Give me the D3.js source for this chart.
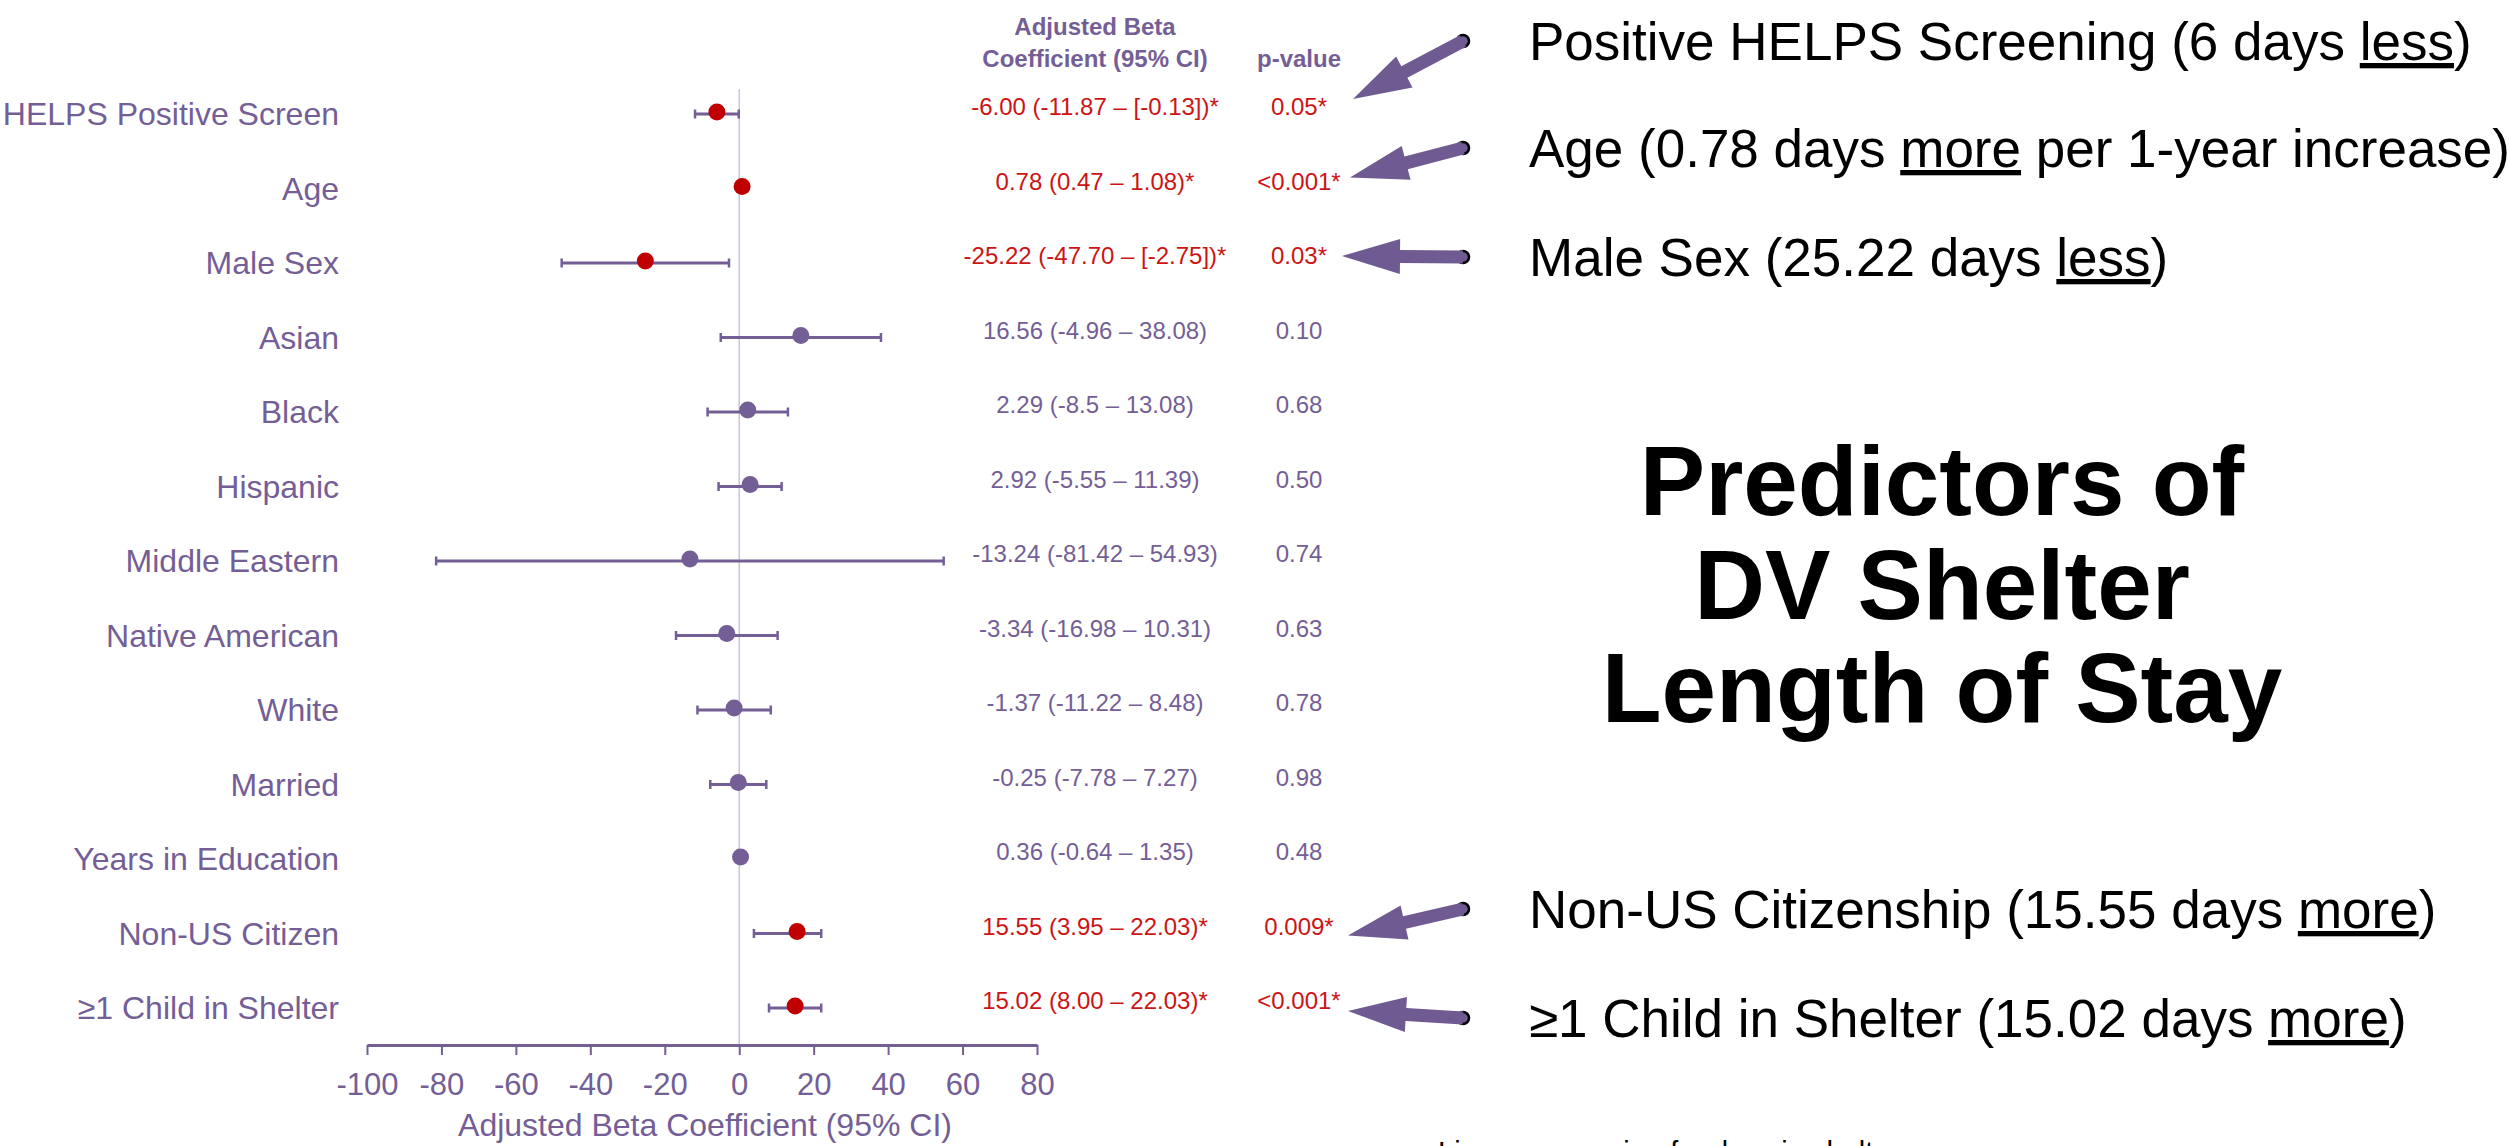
<!DOCTYPE html>
<html>
<head>
<meta charset="utf-8">
<script src="https://cdn.jsdelivr.net/npm/d3@7"></script>
<style>
  html, body { margin: 0; padding: 0; background: #fff; }
  text { font-family: "Liberation Sans", Arial, sans-serif; }
</style>
</head>
<body>
<div id="chart"></div>
<script>
// rows of the forest plot, top to bottom
const categories = ["HELPS Positive Screen", "Age", "Male Sex", "Asian", "Black", "Hispanic",
  "Middle Eastern", "Native American", "White", "Married", "Years in Education",
  "Non-US Citizen", "≥1 Child in Shelter"];
const beta   = [-6.00, 0.78, -25.22, 16.56, 2.29, 2.92, -13.24, -3.34, -1.37, -0.25, 0.36, 15.55, 15.02];
const ciLow  = [-11.87, 0.47, -47.70, -4.96, -8.5, -5.55, -81.42, -16.98, -11.22, -7.78, -0.64, 3.95, 8.00];
const ciHigh = [-0.13, 1.08, -2.75, 38.08, 13.08, 11.39, 54.93, 10.31, 8.48, 7.27, 1.35, 22.03, 22.03];
const ciLabels = ["-6.00 (-11.87 – [-0.13])*", "0.78 (0.47 – 1.08)*", "-25.22 (-47.70 – [-2.75])*",
  "16.56 (-4.96 – 38.08)", "2.29 (-8.5 – 13.08)", "2.92 (-5.55 – 11.39)", "-13.24 (-81.42 – 54.93)",
  "-3.34 (-16.98 – 10.31)", "-1.37 (-11.22 – 8.48)", "-0.25 (-7.78 – 7.27)", "0.36 (-0.64 – 1.35)",
  "15.55 (3.95 – 22.03)*", "15.02 (8.00 – 22.03)*"];
const pValues = ["0.05*", "<0.001*", "0.03*", "0.10", "0.68", "0.50", "0.74", "0.63", "0.78",
  "0.98", "0.48", "0.009*", "<0.001*"];
const significant = [true, true, true, false, false, false, false, false, false, false, false, true, true];
const xTicks = [-100, -80, -60, -40, -20, 0, 20, 40, 60, 80];

// callouts on the right: text before / underlined word / after, and the row each arrow points to
const notes = [
  {pre: "Positive HELPS Screening (6 days ", u: "less", post: ")", row: 0},
  {pre: "Age (0.78 days ", u: "more", post: " per 1-year increase)", row: 1},
  {pre: "Male Sex (25.22 days ", u: "less", post: ")", row: 2},
  {pre: "Non-US Citizenship (15.55 days ", u: "more", post: ")", row: 11},
  {pre: "≥1 Child in Shelter (15.02 days ", u: "more", post: ")", row: 12}
];
const noteBaselines = [60, 167, 276, 928, 1037];
const tipOffsets = [[0, -15], [-3, -11], [-11, -7], [-5, 2], [-5, 3]];
const titleLines = ["Predictors of", "DV Shelter", "Length of Stay"];

const W = 2509, H = 1146;
const PURPLE = "#745e96", ARROW = "#6f5a91", RED = "#c00000", RED_TXT = "#cc1414";

const svg = d3.select("#chart").append("svg")
  .attr("width", W).attr("height", H)
  .style("background", "#fff");

const x = d3.scaleLinear().domain([-100, 80]).range([367, 1037]);
const y = d3.scalePoint().domain(categories).range([114, 1008]);
const axisY = 1045;

// zero reference line
svg.append("line")
  .attr("x1", x(0)).attr("x2", x(0))
  .attr("y1", 89).attr("y2", axisY)
  .attr("stroke", "#cbc5dc").attr("stroke-width", 1.5);

// category labels
svg.append("g").selectAll("text")
  .data(categories).enter().append("text")
  .attr("x", 339).attr("y", d => y(d))
  .attr("dy", "0.35em")
  .attr("text-anchor", "end")
  .style("font-size", "32px")
  .attr("fill", PURPLE)
  .text(d => d);

// whiskers
const rows = categories.map((c, i) => ({c, b: beta[i], lo: ciLow[i], hi: ciHigh[i], sig: significant[i], i}));
const g = svg.append("g");
g.selectAll(".ci").data(rows).enter().append("line")
  .attr("x1", d => x(d.lo)).attr("x2", d => x(d.hi))
  .attr("y1", d => y(d.c)).attr("y2", d => y(d.c))
  .attr("stroke", PURPLE).attr("stroke-width", 3);
["lo", "hi"].forEach(k => {
  g.selectAll(".cap-" + k).data(rows).enter().append("line")
    .attr("x1", d => x(d[k])).attr("x2", d => x(d[k]))
    .attr("y1", d => y(d.c) - 4.5).attr("y2", d => y(d.c) + 4.5)
    .attr("stroke", PURPLE).attr("stroke-width", 2.5);
});
g.selectAll("circle").data(rows).enter().append("circle")
  .attr("cx", d => x(d.b)).attr("cy", d => y(d.c) - 2)
  .attr("r", 8.5)
  .attr("fill", d => d.sig ? RED : PURPLE);

// axis
const axis = svg.append("g")
  .attr("transform", `translate(0,${axisY})`)
  .call(d3.axisBottom(x).tickValues(xTicks).tickFormat(d => `${d}`)
    .tickSize(10).tickSizeOuter(0).tickPadding(18));
axis.select(".domain").attr("stroke", PURPLE).attr("stroke-width", 3);
axis.selectAll(".tick line").attr("stroke", PURPLE).attr("stroke-width", 2);
axis.selectAll(".tick text")
  .attr("fill", PURPLE)
  .style("font-size", "31px")
  .style("font-family", "'Liberation Sans', Arial, sans-serif");

svg.append("text")
  .attr("x", 705).attr("y", 1136)
  .attr("text-anchor", "middle")
  .style("font-size", "32px")
  .attr("fill", PURPLE)
  .text("Adjusted Beta Coefficient (95% CI)");

// table headers
const colCI = 1095, colP = 1299;
svg.append("text").attr("x", colCI).attr("y", 35).attr("text-anchor", "middle")
  .style("font-size", "24px").style("font-weight", "bold").attr("fill", PURPLE).text("Adjusted Beta");
svg.append("text").attr("x", colCI).attr("y", 67).attr("text-anchor", "middle")
  .style("font-size", "24px").style("font-weight", "bold").attr("fill", PURPLE).text("Coefficient (95% CI)");
svg.append("text").attr("x", colP).attr("y", 67).attr("text-anchor", "middle")
  .style("font-size", "24px").style("font-weight", "bold").attr("fill", PURPLE).text("p-value");

// table values
svg.append("g").selectAll("text").data(rows).enter().append("text")
  .attr("x", colCI).attr("y", d => y(d.c) - 7).attr("dy", "0.35em")
  .attr("text-anchor", "middle").style("font-size", "24px")
  .attr("fill", d => d.sig ? RED_TXT : PURPLE)
  .text(d => ciLabels[d.i]);
svg.append("g").selectAll("text").data(rows).enter().append("text")
  .attr("x", colP).attr("y", d => y(d.c) - 7).attr("dy", "0.35em")
  .attr("text-anchor", "middle").style("font-size", "24px")
  .attr("fill", d => d.sig ? RED_TXT : PURPLE)
  .text(d => pValues[d.i]);

// callout text
const noteX = 1529, tailX = 1463;
notes.forEach((n, i) => {
  const t = svg.append("text")
    .attr("x", noteX).attr("y", noteBaselines[i])
    .style("font-size", "53px").attr("fill", "#000");
  t.append("tspan").text(n.pre);
  t.append("tspan").style("text-decoration", "underline").text(n.u);
  t.append("tspan").text(n.post);
});

// block arrows from the callouts to the p-values
function arrowPath(tx, ty, px, py) {
  const dx = px - tx, dy = py - ty, len = Math.hypot(dx, dy);
  const ux = dx / len, uy = dy / len, nx = -uy, ny = ux;
  const sw = 6.5, hw = 17.5, hl = 58;
  const bx = px - ux * hl, by = py - uy * hl;
  const pts = [
    [tx + nx * sw, ty + ny * sw], [bx + nx * sw, by + ny * sw], [bx + nx * hw, by + ny * hw],
    [px, py],
    [bx - nx * hw, by - ny * hw], [bx - nx * sw, by - ny * sw], [tx - nx * sw, ty - ny * sw]
  ];
  return "M" + pts.map(p => p.join(",")).join("L") + "Z";
}
notes.forEach((n, i) => {
  const ty = noteBaselines[i] - 19;
  const px = colP + 54 + tipOffsets[i][0];
  const py = y(categories[n.row]) + tipOffsets[i][1];
  svg.append("circle").attr("cx", tailX).attr("cy", ty).attr("r", 6)
    .attr("fill", ARROW).attr("stroke", "#000").attr("stroke-width", 2.5);
  svg.append("path").attr("d", arrowPath(tailX, ty, px, py)).attr("fill", ARROW);
});

// big title
svg.append("g").selectAll("text").data(titleLines).enter().append("text")
  .attr("x", 1942).attr("y", (d, i) => 515 + i * 103.5)
  .attr("text-anchor", "middle")
  .style("font-size", "98px").style("font-weight", "bold")
  .attr("fill", "#000")
  .text(d => d);

// footnote, cut off at the bottom edge as in the slide
svg.append("text")
  .attr("x", 1438).attr("y", 1162)
  .style("font-size", "29px").attr("fill", "#000")
  .text("Linear regression for days in shelter");
</script>
</body>
</html>
